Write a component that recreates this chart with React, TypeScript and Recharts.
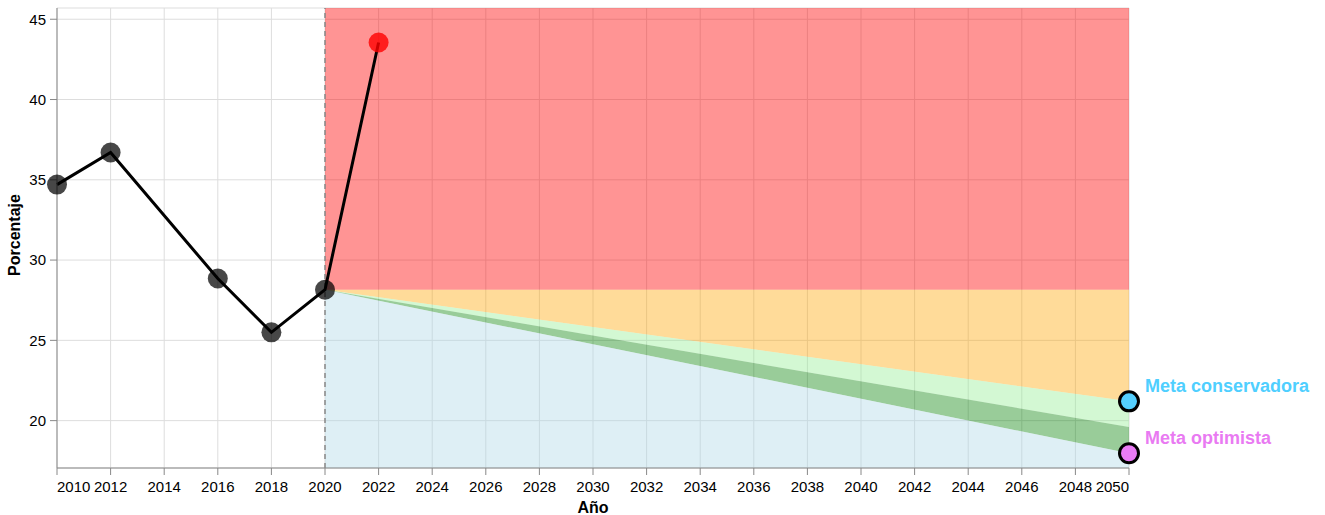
import React from 'react';
import { ComposedChart, Line, Area, XAxis, YAxis, CartesianGrid, ReferenceLine } from 'recharts';

// Serie histórica
const years = [2010, 2012, 2016, 2018, 2020, 2022];
const porcentaje = [34.7, 36.7, 28.85, 25.5, 28.15, 43.55];

// Trayectorias de meta (2020 -> 2050)
const metaYears = [2020, 2050];
const metaConservadora = [28.15, 21.2];
const metaIntermedia = [28.15, 19.6];
const metaOptimista = [28.15, 17.97];

const yMin = 17.05;
const yMax = 45.7;

const xTicks = [2010, 2012, 2014, 2016, 2018, 2020, 2022, 2024, 2026, 2028, 2030, 2032, 2034, 2036, 2038, 2040, 2042, 2044, 2046, 2048, 2050];
const yTicks = [20, 25, 30, 35, 40, 45];

const metaLabels = ['Meta conservadora', 'Meta optimista'];
const metaColors = ['#55d0ff', '#ea7cf5'];
const metaTextColors = ['#4fcfff', '#e97af2'];

const FONT = '"Liberation Sans", Arial, sans-serif';

const serie = years.map((year, i) => ({ year, v: porcentaje[i] }));
const umbral = porcentaje[years.indexOf(2020)];

const bands = metaYears.map((year, i) => ({
  year,
  rojo: [umbral, yMax],
  naranja: [metaConservadora[i], umbral],
  verdeClaro: [metaIntermedia[i], metaConservadora[i]],
  verde: [metaOptimista[i], metaIntermedia[i]],
  azul: [yMin, metaOptimista[i]],
}));

const metas = [
  { year: 2050, v: metaConservadora[1], idx: 0 },
  { year: 2050, v: metaOptimista[1], idx: 1 },
];

const XTick = (props: any) => {
  const { x, y, payload } = props;
  const v = payload.value;
  const anchor = v === 2010 ? 'start' : v === 2050 ? 'end' : 'middle';
  return (
    <text x={x} y={y} dy="0.71em" textAnchor={anchor} fontSize={15} fill="#000" fontFamily={FONT}>
      {v}
    </text>
  );
};

const YTitle = () => (
  <text x={19.5} y={235} transform="rotate(-90, 19.5, 235)" textAnchor="middle" fontSize={16} fontWeight="bold" fill="#000" fontFamily={FONT}>
    Porcentaje
  </text>
);

const XTitle = () => (
  <text x={593} y={513} textAnchor="middle" fontSize={16} fontWeight="bold" fill="#000" fontFamily={FONT}>
    Año
  </text>
);

const SerieDot = (props: any) => {
  const { cx, cy, payload } = props;
  if (cx == null || cy == null) return null;
  const last = payload.year === 2022;
  return <circle key={payload.year} cx={cx} cy={cy} r={10} fill={last ? '#ff0000' : '#000'} fillOpacity={last ? 0.8 : 0.72} />;
};

const MetaDot = (props: any) => {
  const { cx, cy, payload } = props;
  if (cx == null || cy == null) return null;
  const i = payload.idx;
  return (
    <g key={i}>
      <circle cx={cx} cy={cy} r={9.5} fill={metaColors[i]} stroke="#000" strokeWidth={3} />
      <text x={cx + 16} y={cy - 9.5} fontSize={18} fontWeight="bold" fill={metaTextColors[i]} fontFamily={FONT}>
        {metaLabels[i]}
      </text>
    </g>
  );
};

export default function App() {
  return (
    <div style={{ position: 'absolute', left: 0, top: 0, width: 1325, height: 515, background: '#fff', fontFamily: FONT }}>
      <ComposedChart width={1325} height={515} margin={{ top: 8, right: 196, left: 0, bottom: 0 }}>
        <CartesianGrid stroke="#ddd" />
        <XAxis
          type="number"
          dataKey="year"
          domain={[2010, 2050]}
          ticks={xTicks}
          interval={0}
          height={47}
          stroke="#888"
          tickSize={7}
          tickMargin={6}
          tick={<XTick />}
          label={<XTitle />}
        />
        <YAxis
          type="number"
          domain={[yMin, yMax]}
          allowDataOverflow
          ticks={yTicks}
          width={57}
          stroke="#888"
          tickSize={7}
          tickMargin={4}
          tick={{ fill: '#000', fontSize: 15, fontFamily: FONT }}
          label={<YTitle />}
        />
        <Area data={bands} dataKey="rojo" type="linear" stroke="none" fill="#ff0000" fillOpacity={0.42} isAnimationActive={false} />
        <Area data={bands} dataKey="naranja" type="linear" stroke="none" fill="#ffa500" fillOpacity={0.4} isAnimationActive={false} />
        <Area data={bands} dataKey="verdeClaro" type="linear" stroke="none" fill="#90ee90" fillOpacity={0.4} isAnimationActive={false} />
        <Area data={bands} dataKey="verde" type="linear" stroke="none" fill="#008000" fillOpacity={0.4} isAnimationActive={false} />
        <Area data={bands} dataKey="azul" type="linear" stroke="none" fill="#add8e6" fillOpacity={0.4} isAnimationActive={false} />
        <ReferenceLine x={2020} stroke="#888" strokeDasharray="5 4" strokeWidth={1.5} />
        <Line data={serie} dataKey="v" type="linear" stroke="#000" strokeWidth={3} dot={<SerieDot />} activeDot={false} isAnimationActive={false} />
        <Line data={metas} dataKey="v" type="linear" stroke="none" dot={<MetaDot />} activeDot={false} isAnimationActive={false} />
      </ComposedChart>
    </div>
  );
}
